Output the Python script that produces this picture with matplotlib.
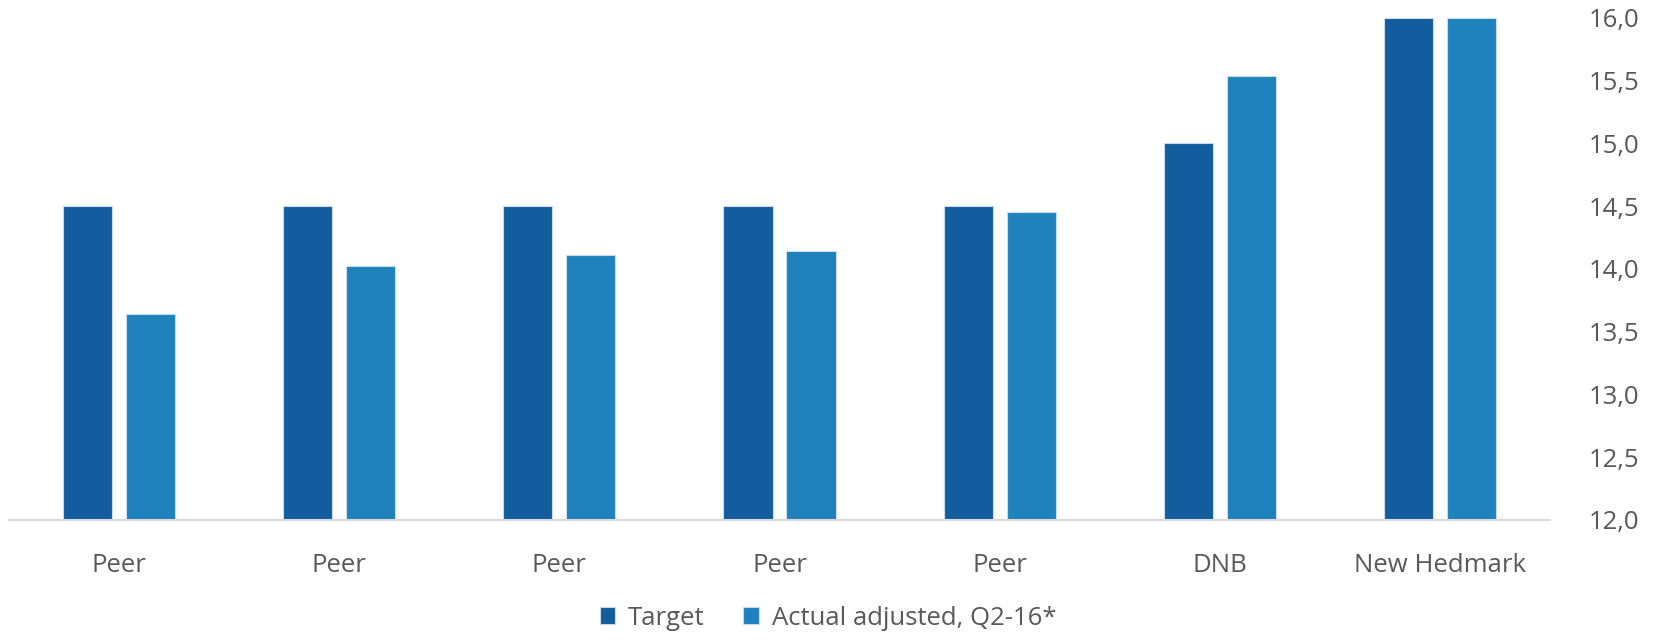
import numpy as np
import matplotlib.pyplot as plt

categories = ['Peer', 'Peer', 'Peer', 'Peer', 'Peer', 'DNB', 'New Hedmark']
target = [14.5, 14.5, 14.5, 14.5, 14.5, 15.0, 16.0]
actual = [13.64, 14.02, 14.11, 14.14, 14.45, 15.54, 16.0]
yticks = [12.0, 12.5, 13.0, 13.5, 14.0, 14.5, 15.0, 15.5, 16.0]

plt.rcParams['font.family'] = ['Open Sans', 'DejaVu Sans']

fig = plt.figure(figsize=(16.56, 6.41), dpi=100)
ax = fig.add_axes([0.0054, 0.1888, 0.9306, 0.7832])

ind = np.arange(len(categories))
width = 0.223
off = 0.143

ax.bar(ind - off, target, width, color='#135D9F', edgecolor='#C9DCEB',
       linewidth=0.8, label='Target')
ax.bar(ind + off, actual, width, color='#1F82BD', edgecolor='#C9DCEB',
       linewidth=0.8, label='Actual adjusted, Q2-16*')

ax.set_ylim(12, 16)
ax.set_xlim(-0.5, len(categories) - 0.5)
ax.set_yticks(yticks)
ax.set_yticklabels([f'{v:.1f}'.replace('.', ',') for v in yticks])
ax.yaxis.tick_right()
ax.set_xticks(ind)
ax.set_xticklabels(categories)
ax.tick_params(axis='both', length=0, labelsize=18.5, labelcolor='#595959')
ax.tick_params(axis='x', pad=24)
ax.tick_params(axis='y', pad=28)

for s in ['top', 'left', 'right']:
    ax.spines[s].set_visible(False)
ax.spines['bottom'].set_color('#D9D9D9')
ax.spines['bottom'].set_linewidth(1.5)

leg = fig.legend(loc='lower center', bbox_to_anchor=(0.5, -0.02), ncol=2, frameon=False,
                 fontsize=18.5, handlelength=0.6, handleheight=0.6, columnspacing=1.5,
                 handletextpad=0.5)
for t in leg.get_texts():
    t.set_color('#595959')

fig.savefig('out.png', dpi=100)
